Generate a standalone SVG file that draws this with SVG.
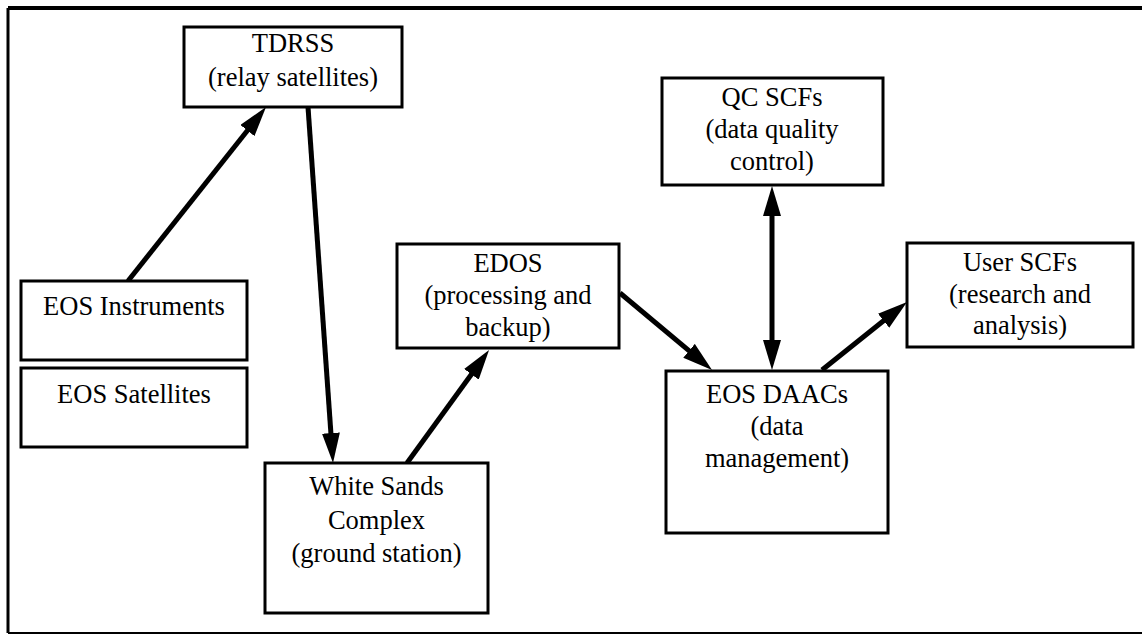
<svg xmlns="http://www.w3.org/2000/svg" width="1142" height="635" viewBox="0 0 1142 635">
<style>
.box{fill:#fff;stroke:#000;stroke-width:3}
text{font-family:'Liberation Serif','Times New Roman',Times,'DejaVu Serif',serif;font-size:26.5px;fill:#000;text-anchor:middle}
.c{stroke:#000;stroke-width:5;fill:none}
.frame{stroke:#000;fill:none}
</style>
<defs>
<marker id="ah" markerUnits="userSpaceOnUse" markerWidth="30" markerHeight="18" refX="10" refY="9" orient="auto-start-reverse" viewBox="0 0 30 18">
<path d="M0,0 L30,9 L0,18 z" fill="#000"/>
</marker>
</defs>
<rect width="1142" height="635" fill="#fff"/>
<g id="frame">
<line class="frame" x1="8" y1="8" x2="1142" y2="8" stroke-width="4"/>
<line class="frame" x1="8" y1="8" x2="8" y2="633" stroke-width="3"/>
<line class="frame" x1="8" y1="633" x2="1142" y2="633" stroke-width="2" stroke="#333"/>
</g>
<g id="connectors">
<line class="c" x1="128" y1="281" x2="253.6" y2="122.7" marker-end="url(#ah)"/>
<line class="c" x1="308" y1="107" x2="331.6" y2="443" marker-end="url(#ah)"/>
<line class="c" x1="407" y1="463" x2="477.3" y2="366.2" marker-end="url(#ah)"/>
<line class="c" x1="620" y1="293" x2="696.7" y2="357.2" marker-end="url(#ah)"/>
<line class="c" x1="772" y1="206" x2="772" y2="350" marker-start="url(#ah)" marker-end="url(#ah)"/>
<line class="c" x1="822" y1="370" x2="891.4" y2="314.5" marker-end="url(#ah)"/>
</g>
<g id="tdrss">
<rect class="box" x="184" y="27" width="218" height="80"/>
<text x="293" y="52">TDRSS</text>
<text x="293" y="86">(relay satellites)</text>
</g>
<g id="eos-instruments">
<rect class="box" x="21" y="281" width="226" height="79"/>
<text x="134" y="315">EOS Instruments</text>
</g>
<g id="eos-satellites">
<rect class="box" x="21" y="368" width="226" height="79"/>
<text x="134" y="403">EOS Satellites</text>
</g>
<g id="white-sands">
<rect class="box" x="265" y="463" width="223" height="150"/>
<text x="376.5" y="495">White Sands</text>
<text x="376.5" y="529">Complex</text>
<text x="376.5" y="562">(ground station)</text>
</g>
<g id="edos">
<rect class="box" x="397" y="244" width="222" height="104"/>
<text x="508" y="272">EDOS</text>
<text x="508" y="304">(processing and</text>
<text x="508" y="336">backup)</text>
</g>
<g id="qc-scfs">
<rect class="box" x="662" y="78" width="221" height="107"/>
<text x="772" y="106">QC SCFs</text>
<text x="772" y="138">(data quality</text>
<text x="772" y="170">control)</text>
</g>
<g id="eos-daacs">
<rect class="box" x="666" y="371" width="222" height="162"/>
<text x="777" y="403">EOS DAACs</text>
<text x="777" y="435">(data</text>
<text x="777" y="467">management)</text>
</g>
<g id="user-scfs">
<rect class="box" x="907" y="243" width="226" height="104"/>
<text x="1020" y="271">User SCFs</text>
<text x="1020" y="303">(research and</text>
<text x="1020" y="334">analysis)</text>
</g>
</svg>
